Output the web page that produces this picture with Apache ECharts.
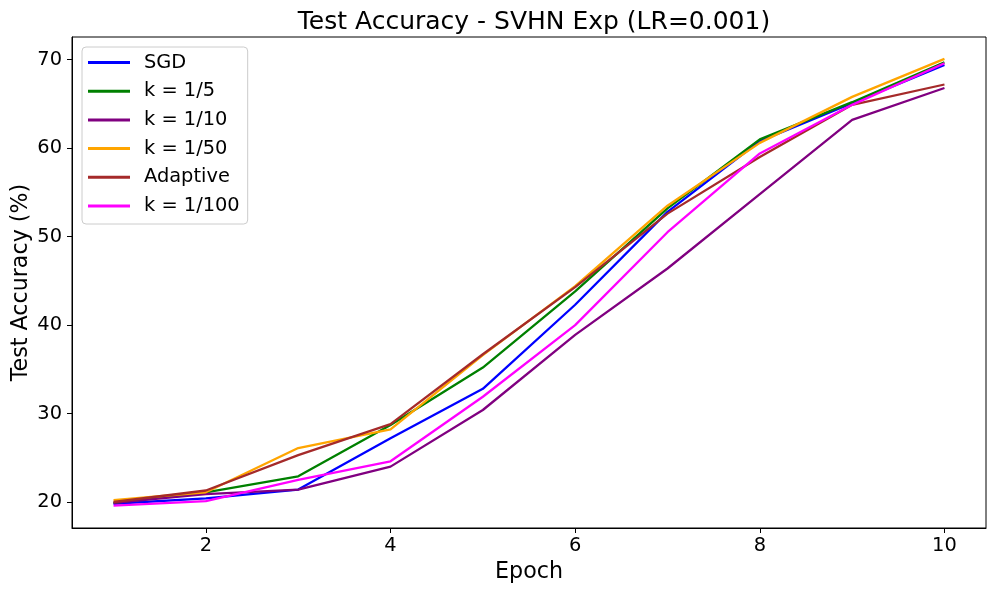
<!DOCTYPE html>
<html>
<head>
<meta charset="utf-8">
<script src="https://cdn.jsdelivr.net/npm/echarts@6/dist/echarts.min.js"></script>
<style>html,body{margin:0;padding:0;background:#fff}#c{width:996px;height:594px}</style>
</head>
<body>
<div id="c"></div>
<script>
const epochs = [1, 2, 3, 4, 5, 6, 7, 8, 9, 10];
const sgd      = [19.8, 20.4, 21.4, 27.2, 32.8, 42.3, 52.8, 60.8, 65.1, 69.4];
const k5       = [19.9, 21.1, 22.9, 28.7, 35.2, 43.8, 53.2, 61.0, 65.2, 69.7];
const k10      = [19.9, 20.9, 21.4, 24.0, 30.4, 38.9, 46.4, 54.8, 63.2, 66.8];
const k50      = [20.2, 21.1, 26.1, 28.2, 36.6, 44.4, 53.5, 60.6, 65.8, 70.1];
const adaptive = [20.0, 21.3, 25.3, 28.8, 36.7, 44.3, 52.6, 59.0, 64.9, 67.2];
const k100     = [19.6, 20.1, 22.5, 24.6, 31.9, 40.0, 50.5, 59.4, 64.9, 69.6];
const xTicks = [2, 4, 6, 8, 10];
const yTicks = [20, 30, 40, 50, 60, 70];

const seriesDefs = [
  ['SGD', sgd, '#0000ff'],
  ['k = 1/5', k5, '#008000'],
  ['k = 1/10', k10, '#800080'],
  ['k = 1/50', k50, '#ffa500'],
  ['Adaptive', adaptive, '#a52a2a'],
  ['k = 1/100', k100, '#ff00ff']
];
const FONT = 'DejaVu Sans';
const chart = echarts.init(document.getElementById('c'), null, {renderer: 'canvas'});
chart.setOption({
  animation: false,
  backgroundColor: '#fff',
  title: {
    text: 'Test Accuracy - SVHN Exp (LR=0.001)',
    left: 529, top: 5, textAlign: 'center',
    textStyle: {fontFamily: FONT, fontSize: 25, fontWeight: 'normal', color: '#000'}
  },
  legend: {
    orient: 'vertical', left: 82, top: 47,
    data: seriesDefs.map(s => s[0]),
    icon: 'rect', itemWidth: 42, itemHeight: 3, itemGap: 6.7,
    padding: [4.5, 8, 7, 6],
    backgroundColor: 'rgba(255,255,255,0.8)',
    borderColor: '#cccccc', borderWidth: 1, borderRadius: 4,
    textStyle: {fontFamily: FONT, fontSize: 19.4, color: '#000', lineHeight: 22, padding: [0, 0, 0, 9]}
  },
  grid: {left: 72, right: 10, top: 37, bottom: 66, containLabel: false, outerBoundsMode: 'none',
    show: true, borderColor: '#000', borderWidth: 1, backgroundColor: 'transparent'},
  xAxis: {
    type: 'value', min: 0.55, max: 10.45,
    name: 'Epoch', nameLocation: 'middle', nameGap: 33,
    nameTextStyle: {fontFamily: FONT, fontSize: 22.2, color: '#000'},
    axisLine: {show: true, lineStyle: {color: '#000', width: 1}},
    axisTick: {show: true, length: 5, lineStyle: {color: '#000', width: 1}, customValues: xTicks},
    axisLabel: {fontFamily: FONT, fontSize: 19.4, color: '#000', margin: 8, customValues: xTicks},
    splitLine: {show: false}
  },
  yAxis: {
    type: 'value', min: 17.06, max: 72.57,
    name: 'Test Accuracy (%)', nameLocation: 'middle', nameGap: 40, nameMoveOverlap: false,
    nameTextStyle: {fontFamily: FONT, fontSize: 22.2, color: '#000'},
    axisLine: {show: true, lineStyle: {color: '#000', width: 1}},
    axisTick: {show: true, length: 5, lineStyle: {color: '#000', width: 1}, customValues: yTicks},
    axisLabel: {fontFamily: FONT, fontSize: 19.4, color: '#000', margin: 10, customValues: yTicks},
    splitLine: {show: false}
  },
  series: seriesDefs.map(([name, vals, color]) => ({
    name, type: 'line', showSymbol: false, symbol: 'none',
    data: epochs.map((e, i) => [e, vals[i]]),
    lineStyle: {color, width: 2.3}, itemStyle: {color},
    emphasis: {disabled: true}
  }))
});
</script>
</body>
</html>
